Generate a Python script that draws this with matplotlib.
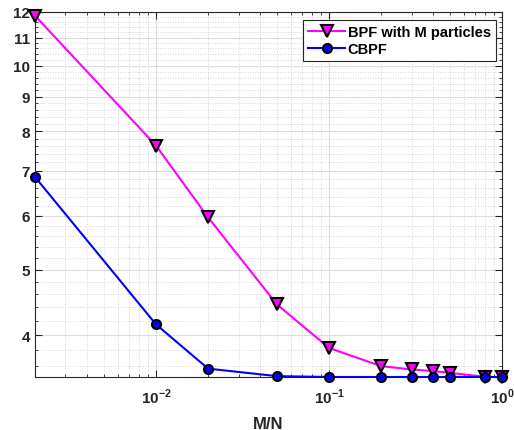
import matplotlib
matplotlib.use("Agg")
import matplotlib.pyplot as plt
import matplotlib.ticker as ticker
import numpy as np

plt.rcParams["font.family"] = ["Liberation Sans", "DejaVu Sans"]
plt.rcParams["font.weight"] = "bold"
plt.rcParams["mathtext.fontset"] = "custom"
plt.rcParams["mathtext.rm"] = "Liberation Sans:bold"
plt.rcParams["mathtext.bf"] = "Liberation Sans:bold"

ratio = [0.002, 0.01, 0.02, 0.05, 0.1, 0.2, 0.3, 0.4, 0.5, 0.8, 1.0]
bpf_err = [11.85, 7.62, 5.97, 4.44, 3.83, 3.60, 3.56, 3.54, 3.52, 3.47, 3.47]
cbpf_err = [6.85, 4.15, 3.57, 3.48, 3.47, 3.47, 3.47, 3.47, 3.47, 3.47, 3.47]

x_ticks = [0.01, 0.1, 1.0]
x_tick_labels = [r"$10^{-2}$", r"$10^{-1}$", r"$10^{0}$"]
y_ticks = [4, 5, 6, 7, 8, 9, 10, 11, 12]

dark = "#262626"

fig = plt.figure(figsize=(5.14, 4.31), dpi=100)
ax = fig.add_axes([0.068, 0.123, 0.909, 0.847])

ax.plot(ratio, bpf_err, color="magenta", linewidth=1.5, marker="v", markersize=8.5,
        markerfacecolor="magenta", markeredgecolor="black", markeredgewidth=1.5,
        label="BPF with M particles", clip_on=False, zorder=3)
ax.plot(ratio, cbpf_err, color="blue", linewidth=1.5, marker="o", markersize=6.5,
        markerfacecolor="blue", markeredgecolor="black", markeredgewidth=1.5,
        label="CBPF", clip_on=False, zorder=4)

ax.set_xscale("log")
ax.set_yscale("log")
ax.set_xlim(0.002, 1.0)
ax.set_ylim(3.47, 12)

ax.set_xticks(x_ticks)
ax.set_xticklabels(x_tick_labels)
ax.xaxis.set_minor_locator(ticker.LogLocator(base=10, subs=np.arange(2, 10)))
ax.xaxis.set_minor_formatter(ticker.NullFormatter())

ax.set_yticks(y_ticks)
ax.set_yticklabels([str(v) for v in y_ticks])
ax.yaxis.set_minor_locator(ticker.FixedLocator(np.arange(3.6, 12.0, 0.2)))
ax.yaxis.set_minor_formatter(ticker.NullFormatter())

ax.grid(True, which="major", color="#dcdcdc", linestyle="-", linewidth=0.8)
ax.grid(True, which="minor", color="#c8c8c8", linestyle=(0, (1, 2)), linewidth=0.6)
ax.set_axisbelow(True)

ax.tick_params(which="both", direction="in", top=True, right=True, colors=dark,
               labelsize=11)
ax.tick_params(which="major", length=5, width=0.8)
ax.tick_params(which="minor", length=2.5, width=0.6)
ax.tick_params(axis="x", which="major", pad=7)
for s in ax.spines.values():
    s.set_color(dark)
    s.set_linewidth(0.8)
for lab in ax.get_xticklabels() + ax.get_yticklabels():
    lab.set_fontweight("bold")
    lab.set_color(dark)

ax.set_xlabel("M/N", fontsize=12, fontweight="bold", color=dark, labelpad=7)

leg = ax.legend(loc="upper right", bbox_to_anchor=(0.987, 0.978),
                prop={"weight": "bold", "size": 10.5},
                fancybox=False, framealpha=1, edgecolor=dark, borderpad=0.35,
                handlelength=2.5, handletextpad=0.2, labelspacing=0.2,
                borderaxespad=0)
leg.get_frame().set_linewidth(0.8)

fig.savefig("out.png", dpi=100)
